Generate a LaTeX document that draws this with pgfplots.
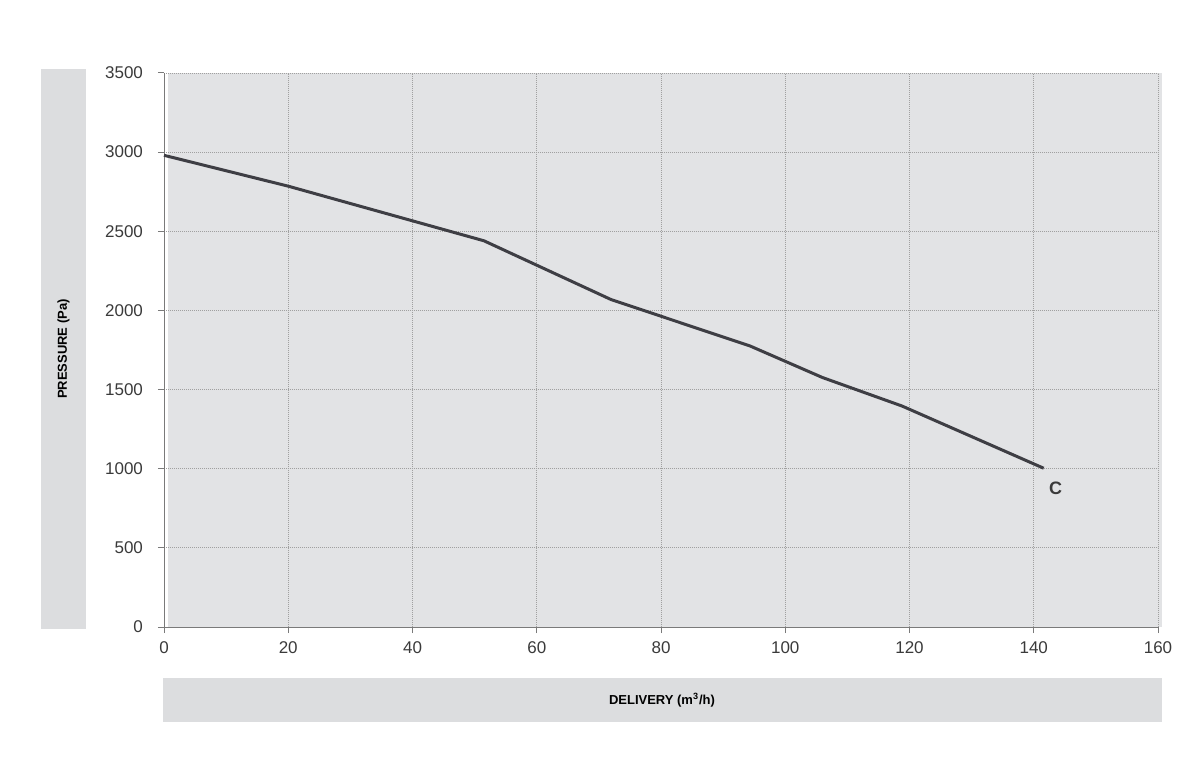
\documentclass[border=0pt]{standalone}
\usepackage{pgfplots}
\pgfplotsset{compat=1.18}
\usepackage{fontspec}
\setmainfont{Liberation Sans}
\definecolor{bgc}{HTML}{E2E3E5}
\definecolor{boxc}{HTML}{DCDDDF}
\definecolor{txt}{HTML}{3A3A3A}
\definecolor{linec}{HTML}{3E3E44}
\definecolor{gridc}{HTML}{A0A0A0}
\definecolor{axc}{HTML}{7A7A7A}
\begin{document}
\begin{tikzpicture}
\path (0pt,0pt) rectangle (600pt,386.5pt);
\fill[bgc] (84pt,73pt) rectangle (581pt,350pt);
\fill[boxc] (20.5pt,72pt) rectangle (43pt,352pt);
\fill[boxc] (81.5pt,25.5pt) rectangle (581pt,47.5pt);
\node[rotate=90,font=\fontsize{6.5}{7}\selectfont\bfseries] at (31.75pt,212pt) {PRESSURE (Pa)};
\node[font=\fontsize{6.5}{7}\selectfont\bfseries] at (331pt,36.5pt) {DELIVERY (m\textsuperscript{3}/h)};
\begin{axis}[
  at={(82pt,73pt)}, anchor=south west,
  scale only axis, width=497pt, height=277pt,
  xmin=0, xmax=160, ymin=0, ymax=3500,
  xtick={0,20,...,160}, ytick={0,500,...,3500},
  axis x line=bottom, axis y line=left,
  axis line style={-,draw=axc,line width=0.5pt},
  tick align=outside, major tick length=3pt,
  tick style={draw=axc,line width=0.5pt},
  grid=major,
  major grid style={dash pattern=on 0.4pt off 0.6pt,draw=gridc,line width=0.4pt},
  ticklabel style={font=\fontsize{8.5}{10}\selectfont,text=txt},
  /pgf/number format/assume math mode=true,
  /pgf/number format/1000 sep={},
  xticklabel style={yshift=-1pt},
  yticklabel style={xshift=-4pt},
  clip=false,
]
\addplot[linec, line width=1.5pt] coordinates {
 (0,2980) (20,2785) (51.5,2440) (72,2068) (94.3,1776) (106,1576) (118.8,1396) (141.6,1003)
};
\node[font=\fontsize{9}{10}\selectfont\bfseries,text=txt] at (axis cs:143.5,878) {C};
\end{axis}
\end{tikzpicture}
\end{document}
